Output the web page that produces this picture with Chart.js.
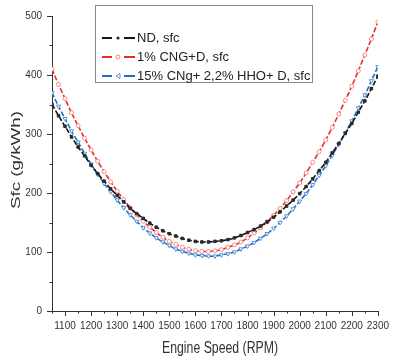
<!DOCTYPE html>
<html>
<head>
<meta charset="utf-8">
<script src="https://cdn.jsdelivr.net/npm/chart.js@4.4.1/dist/chart.umd.min.js"></script>
<style>
 html, body { margin: 0; padding: 0; background: #fff; }
 #wrap { width: 398px; height: 360px; }
</style>
</head>
<body>
<div id="wrap"><canvas id="sfcChart"></canvas></div>
<script>
// engine speed, RPM
let rpm = [1050, 1075, 1100, 1125, 1150, 1175, 1200, 1225, 1250, 1275, 1300, 1325, 1350, 1375, 1400, 1425, 1450, 1475, 1500, 1525, 1550, 1575, 1600, 1625, 1650, 1675, 1700, 1725, 1750, 1775, 1800, 1825, 1850, 1875, 1900, 1925, 1950, 1975, 2000, 2025, 2050, 2075, 2100, 2125, 2150, 2175, 2200, 2225, 2250, 2275, 2300];

// sfc, g/kWh
let ndSfc = [350, 331, 313, 295, 278, 263, 247, 233, 220, 207, 196, 185, 174, 165, 157, 149, 142, 136, 131, 127, 123, 120, 118, 117, 117, 118, 119, 121, 124, 128, 133, 138, 144, 151, 159, 168, 178, 188, 199, 211, 224, 238, 252, 268, 284, 301, 318, 337, 356, 377, 398];
let cngSfc = [410, 384, 360, 336, 314, 293, 273, 254, 236, 219, 203, 189, 175, 163, 152, 142, 133, 125, 118, 113, 108, 105, 102, 101, 101, 102, 104, 108, 112, 117, 124, 132, 141, 151, 162, 174, 187, 202, 217, 234, 252, 270, 290, 311, 334, 357, 381, 407, 434, 461, 490];
let hhoSfc = [370, 347, 326, 305, 286, 267, 249, 232, 216, 202, 188, 175, 163, 152, 141, 132, 124, 117, 111, 105, 101, 98, 95, 94, 93, 93, 95, 97, 100, 105, 110, 116, 123, 131, 140, 150, 161, 173, 186, 199, 214, 230, 246, 264, 282, 302, 322, 344, 366, 390, 414];

let seriesNames = ['ND, sfc', '1% CNG+D, sfc', '15% CNg+ 2,2% HHO+ D, sfc'];
let xTitle = 'Engine Speed (RPM)';
let yTitle = 'Sfc (g/kWh)';

function toPoints(vals) {
 return rpm.map((r, i) => ({ x: r, y: vals[i] }));
}

// tick marks (major / minor), legend box and axis titles drawn by hand
let extras = {
 id: 'extras',
 afterDraw(chart) {
  let ctx = chart.ctx;
  let xs = chart.scales.x, ys = chart.scales.y;
  ctx.save();
  ctx.strokeStyle = '#333';
  ctx.lineWidth = 1;
  ctx.beginPath();
  for (let v = 1050; v <= 2300; v += 50) {
   let px = Math.round(xs.getPixelForValue(v)) + 0.5;
   let len = v % 100 === 0 ? 5 : 2.5;
   ctx.moveTo(px, ys.bottom); ctx.lineTo(px, ys.bottom + len);
  }
  for (let v = 0; v <= 500; v += 50) {
   let py = Math.round(ys.getPixelForValue(v)) + 0.5;
   let len = v % 100 === 0 ? 5 : 2.5;
   ctx.moveTo(xs.left, py); ctx.lineTo(xs.left - len, py);
  }
  ctx.stroke();

  ctx.fillStyle = '#fff';
  ctx.fillRect(95.5, 5.5, 217, 77);
  ctx.strokeStyle = '#8a8a8a';
  ctx.strokeRect(95.5, 5.5, 217, 77);
  let rows = [38, 57, 76];
  chart.data.datasets.forEach((ds, i) => {
   let y = rows[i];
   ctx.strokeStyle = ds.borderColor;
   ctx.lineWidth = 2;
   ctx.beginPath();
   ctx.moveTo(102, y); ctx.lineTo(112, y);
   ctx.moveTo(124, y); ctx.lineTo(135, y);
   ctx.stroke();
   ctx.lineWidth = 1;
   ctx.strokeStyle = ds.pointBorderColor;
   ctx.fillStyle = ds.pointBackgroundColor;
   ctx.beginPath();
   if (i === 0) {
    ctx.arc(118, y, 1.6, 0, Math.PI * 2);
    ctx.fill();
   } else if (i === 1) {
    ctx.arc(118, y, 2, 0, Math.PI * 2);
    ctx.stroke();
   } else {
    ctx.moveTo(116, y); ctx.lineTo(120, y - 2.5); ctx.lineTo(120, y + 2.5); ctx.closePath();
    ctx.stroke();
   }
   ctx.fillStyle = '#222';
   ctx.font = '13px "Liberation Sans", Arial, sans-serif';
   ctx.textBaseline = 'middle';
   ctx.textAlign = 'left';
   ctx.fillText(ds.label, 137, y + 0.5);
  });

  // the source image is stretched vertically, so titles are scaled to fit
  ctx.fillStyle = '#333';
  ctx.textAlign = 'center';
  ctx.textBaseline = 'middle';
  ctx.font = '16px "Liberation Sans", Arial, sans-serif';
  let wx = ctx.measureText(xTitle).width;
  ctx.save();
  ctx.translate(220, 349);
  ctx.scale(116 / wx, 1);
  ctx.fillText(xTitle, 0, 0);
  ctx.restore();
  ctx.font = '13px "Liberation Sans", Arial, sans-serif';
  let wy = ctx.measureText(yTitle).width;
  ctx.translate(16, 160);
  ctx.rotate(-Math.PI / 2);
  ctx.scale(98 / wy, 1);
  ctx.fillText(yTitle, 0, 0);
  ctx.restore();
 }
};

let sfcChart = document.getElementById('sfcChart').getContext('2d');
let chart1 = new Chart(sfcChart, {
 type: 'line',
 data: {
  datasets: [
   {
    label: seriesNames[0],
    data: toPoints(ndSfc),
    borderColor: '#151515',
    borderWidth: 1.6,
    borderDash: [5, 2],
    pointStyle: 'rect',
    pointRadius: 1.8,
    pointBackgroundColor: '#2a2a2a',
    pointBorderColor: '#2a2a2a',
    pointBorderWidth: 1,
    tension: 0.3,
    fill: false,
   },
   {
    label: seriesNames[1],
    data: toPoints(cngSfc),
    borderColor: '#ee2b2b',
    borderWidth: 1.6,
    borderDash: [5, 2],
    pointStyle: 'circle',
    pointRadius: 2,
    pointBackgroundColor: '#fff',
    pointBorderColor: '#f28a8a',
    pointBorderWidth: 1,
    tension: 0.3,
    fill: false,
   },
   {
    label: seriesNames[2],
    data: toPoints(hhoSfc),
    borderColor: '#1f6fc8',
    borderWidth: 1.6,
    borderDash: [5, 2],
    pointStyle: 'triangle',
    pointRotation: 180,
    pointRadius: 2.4,
    pointBackgroundColor: '#fff',
    pointBorderColor: '#5a8fd6',
    pointBorderWidth: 1,
    tension: 0.3,
    fill: false,
   }
  ]
 },
 options: {
  responsive: true,
  maintainAspectRatio: false,
  animation: false,
  layout: { padding: { top: 12, right: 12, left: 0, bottom: 0 } },
  plugins: {
   legend: { display: false },
   tooltip: { enabled: false },
  },
  scales: {
   x: {
    type: 'linear',
    min: 1050,
    max: 2300,
    afterFit(scale) { scale.height = 49; },
    ticks: {
     stepSize: 50,
     autoSkip: false,
     maxRotation: 0,
     padding: 9,
     color: '#333',
     font: { size: 10, family: '"Liberation Sans", Arial, sans-serif' },
     callback: v => (v % 100 === 0 ? v : ''),
    },
    grid: { drawOnChartArea: false, drawTicks: false },
    border: { color: '#333', width: 1 },
   },
   y: {
    min: 0,
    max: 500,
    afterFit(scale) { scale.width = 52; },
    ticks: {
     stepSize: 50,
     padding: 10,
     color: '#333',
     font: { size: 10, family: '"Liberation Sans", Arial, sans-serif' },
     callback: v => (v % 100 === 0 ? v : ''),
    },
    grid: { drawOnChartArea: false, drawTicks: false },
    border: { color: '#333', width: 1 },
   }
  }
 },
 plugins: [extras]
});
</script>
</body>
</html>
